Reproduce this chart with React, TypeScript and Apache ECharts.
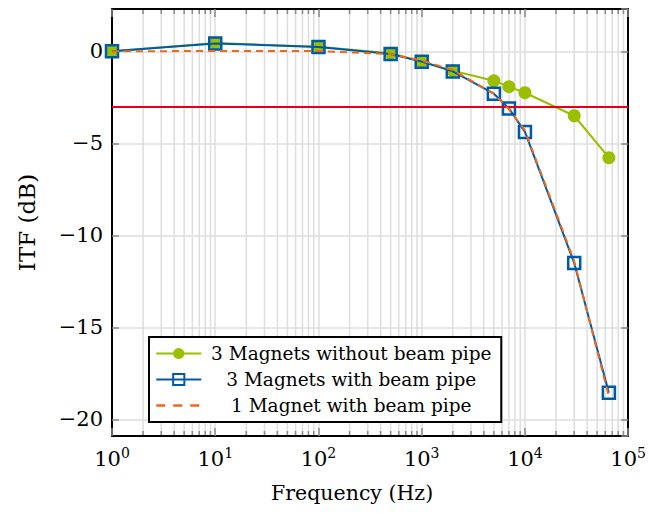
import React, { useEffect, useRef } from "react";
import * as echarts from "echarts";

const freq = [1, 10, 100, 500, 1000, 2000, 5000, 7000, 10000, 30000, 65000];
const noPipe3 = [0, 0.45, 0.25, -0.1, -0.55, -1.05, -1.6, -1.92, -2.25, -3.5, -5.78];
const pipe3 = [0, 0.43, 0.23, -0.14, -0.56, -1.09, -2.3, -3.1, -4.38, -11.5, -18.55];
const pipe1 = [0, 0.02, 0.02, -0.15, -0.5, -1.02, -2.3, -3.15, -4.3, -11.4, -18.75];
const cutoff = -3;
const names = ["3 Magnets without beam pipe", "3 Magnets with beam pipe", "1 Magnet with beam pipe"];
const decades = [1, 10, 100, 1000, 10000];
const minorMult = [2, 3, 4, 5, 6, 7, 8, 9];

const FONT = "DejaVu Serif";
const GREEN = "#99bf00";
const BLUE = "#005aa8";
const ORANGE = "#ee6a1a";
const RED = "#e2001a";
const GRID = "#dedede";
const TICK = "#8a8a8a";

export default function App() {
  const ref = useRef<HTMLDivElement>(null);
  useEffect(() => {
    if (!ref.current) return;
    const chart = echarts.init(ref.current, null, { renderer: "svg" });
    const minorVals: number[] = [];
    decades.forEach((d) => minorMult.forEach((m) => minorVals.push(d * m)));
    const logLabel = (v: number) => {
      const e = Math.round(Math.log10(v));
      return "{b|10}{s|" + e + "}";
    };
    const yLabel = (v: number) => {
      if (Math.abs(v % 5) > 1e-6) return "";
      return v < 0 ? "\u2212" + Math.abs(v) : String(v);
    };
    const labelRich = {
      b: { fontFamily: FONT, fontSize: 21, color: "#000", verticalAlign: "bottom", lineHeight: 23 },
      s: { fontFamily: FONT, fontSize: 14, color: "#000", verticalAlign: "top", lineHeight: 13 },
    };
    chart.setOption({
      animation: false,
      backgroundColor: "#fff",
      textStyle: { fontFamily: FONT },
      grid: { left: 112, right: 19, top: 9, bottom: 77 },
      legend: {
        orient: "vertical",
        left: 149,
        top: 337,
        padding: [7, 5, 7, 6],
        itemWidth: 45,
        itemHeight: 14,
        itemGap: 7,
        borderColor: "#000",
        borderWidth: 2,
        backgroundColor: "#fff",
        data: [
          { name: names[0] },
          { name: names[1] },
          { name: names[2], lineStyle: { type: [9, 8], width: 2.5, color: ORANGE } },
        ],
        formatter: (n: string) => "{c|" + n + "}",
        textStyle: {
          fontFamily: FONT,
          rich: {
            c: { width: 290, align: "center", fontFamily: FONT, fontSize: 18.5, lineHeight: 20, color: "#000" },
          },
        },
      },
      xAxis: [
        {
          type: "log",
          logBase: 10,
          min: 1,
          max: 100000,
          name: "Frequency (Hz)",
          nameLocation: "middle",
          nameGap: 46,
          nameTextStyle: { fontFamily: FONT, fontSize: 20.5, color: "#000", padding: [0, 36, 0, 0] },
          axisLine: { show: true, onZero: false, lineStyle: { color: "#000", width: 2 } },
          axisTick: { show: true, inside: true, length: 8, lineStyle: { color: TICK, width: 1.5 } },
          axisLabel: { formatter: logLabel, rich: labelRich, margin: 10 },
          splitLine: { show: true, lineStyle: { color: GRID, width: 1.5 } },
        },
        {
          type: "log",
          logBase: 10,
          min: 1,
          max: 100000,
          position: "top",
          axisLine: { show: true, onZero: false, lineStyle: { color: "#000", width: 2 } },
          axisTick: { show: true, inside: true, length: 8, lineStyle: { color: TICK, width: 1.5 } },
          axisLabel: { show: false },
          splitLine: { show: false },
        },
      ],
      yAxis: [
        {
          type: "value",
          min: -20.9,
          max: 2.3,
          splitNumber: 5,
          name: "ITF (dB)",
          nameLocation: "middle",
          nameGap: 74,
          nameTextStyle: { fontFamily: FONT, fontSize: 23, color: "#000" },
          axisLine: { show: true, onZero: false, lineStyle: { color: "#000", width: 2 } },
          axisTick: { show: true, inside: true, length: 7, lineStyle: { color: TICK, width: 1.5 } },
          axisLabel: { formatter: yLabel, fontFamily: FONT, fontSize: 21, color: "#000", margin: 9, showMinLabel: false, showMaxLabel: false },
          splitLine: { show: true, lineStyle: { color: GRID, width: 1.5 } },
        },
        {
          type: "value",
          min: -20.9,
          max: 2.3,
          splitNumber: 5,
          position: "right",
          axisLine: { show: true, onZero: false, lineStyle: { color: "#000", width: 2 } },
          axisTick: { show: true, inside: true, length: 7, lineStyle: { color: TICK, width: 1.5 } },
          axisLabel: { show: false },
          splitLine: { show: false },
        },
      ],
      series: [
        {
          type: "custom",
          silent: true,
          z: 0,
          xAxisIndex: 0,
          yAxisIndex: 0,
          data: minorVals.map((v) => [v, 0]),
          renderItem: (params: any, api: any) => {
            const v = api.value(0);
            const p = api.coord([v, 0]);
            const cs = params.coordSys;
            const top = cs.y;
            const bot = cs.y + cs.height;
            return {
              type: "group",
              children: [
                { type: "line", shape: { x1: p[0], y1: top, x2: p[0], y2: bot }, style: { stroke: GRID, lineWidth: 1.5 } },
                { type: "line", shape: { x1: p[0], y1: bot, x2: p[0], y2: bot - 5 }, style: { stroke: TICK, lineWidth: 1.5 } },
                { type: "line", shape: { x1: p[0], y1: top, x2: p[0], y2: top + 5 }, style: { stroke: TICK, lineWidth: 1.5 } },
              ],
            };
          },
        },
        {
          name: names[0],
          type: "line",
          z: 3,
          data: freq.map((f, i) => [f, noPipe3[i]]),
          symbol: "circle",
          symbolSize: 13,
          lineStyle: { color: GREEN, width: 2 },
          itemStyle: { color: GREEN },
          markLine: {
            silent: true,
            symbol: "none",
            label: { show: false },
            lineStyle: { color: RED, width: 2, type: "solid" },
            data: [{ yAxis: cutoff }],
          },
        },
        {
          name: names[1],
          type: "line",
          z: 4,
          data: freq.map((f, i) => [f, pipe3[i]]),
          symbol: "rect",
          symbolSize: 12,
          lineStyle: { color: BLUE, width: 2 },
          itemStyle: { color: "rgba(255,255,255,0)", borderColor: BLUE, borderWidth: 2.5 },
        },
        {
          name: names[2],
          type: "line",
          z: 5,
          data: freq.map((f, i) => [f, pipe1[i]]),
          symbol: "none",
          lineStyle: { color: ORANGE, width: 2, type: [7, 5] },
          itemStyle: { color: "rgba(255,255,255,0)", borderWidth: 0 },
        },
      ],
    });
    return () => chart.dispose();
  }, []);
  return <div ref={ref} style={{ width: 649, height: 513, position: "absolute", left: 0, top: 0 }} />;
}
